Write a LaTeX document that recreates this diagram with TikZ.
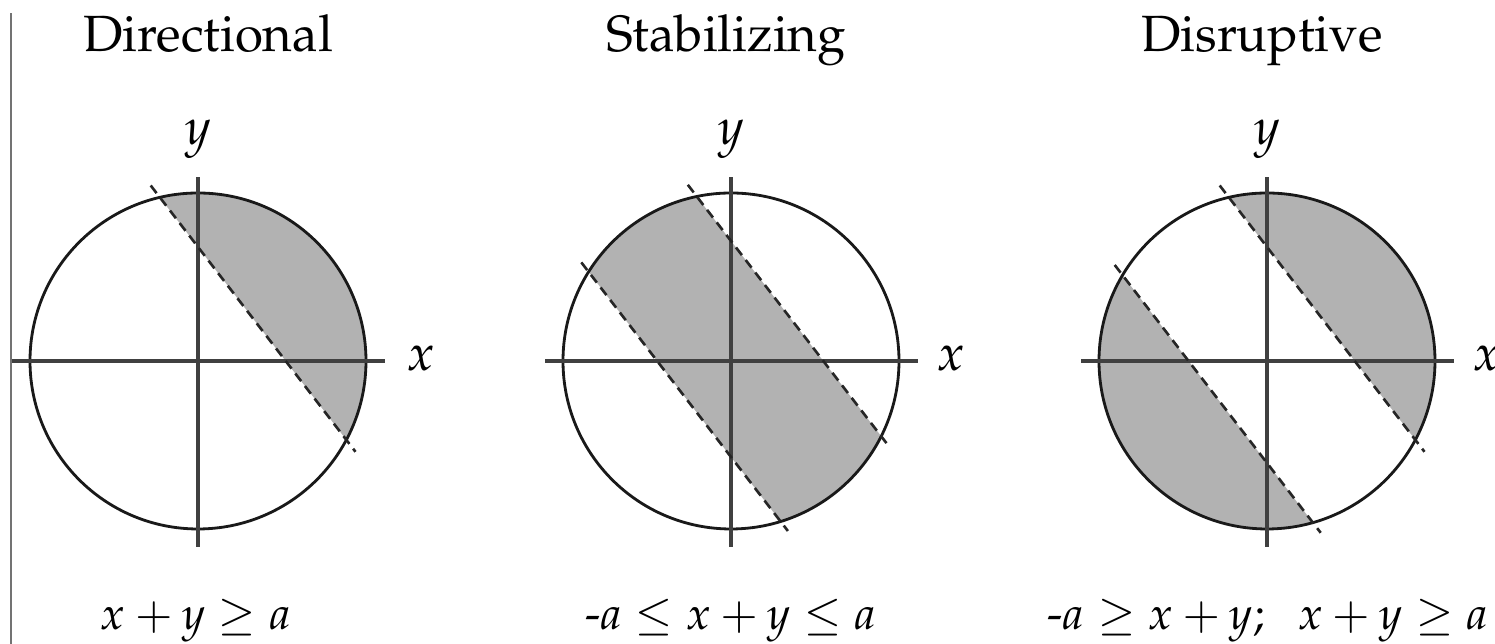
\documentclass[tikz,border=0pt]{standalone}
\usepackage[T1]{fontenc}
\usepackage{mathpazo}
\usepackage{amsmath}

\begin{document}
\begin{tikzpicture}[
    x=0.02cm, y=0.02cm,
    rim/.style    = {line width=1.6pt, black!90},
    axis/.style   = {line width=1.8pt, black!75},
    bound/.style  = {line width=1.5pt, black!85, dash pattern=on 5.5pt off 3.5pt},
    region/.style = {fill=black!30},
    axlbl/.style  = {font=\fontsize{29}{34}\selectfont},
    head/.style   = {font=\fontsize{29}{34}\selectfont, anchor=base},
    rule/.style   = {font=\fontsize{26}{31}\selectfont, anchor=base},
]
\useasboundingbox (0,0) rectangle (1495,644);

% page edge on the left
\draw[line width=1.7pt, black!55] (11,0) -- (11,631);

% ============================================================
%  PANEL 1  –  Directional, one boundary  x + y = a
% ============================================================
\node[head] (dir) at (208,592) {Directional};
\begin{scope}[shift={(198,283)}]
  \begin{scope}
    \clip (0,0) circle (168);
    \fill[region] (-200,374) -- (250,-211) -- (250,374) -- cycle;
  \end{scope}
  \draw[rim]  (0,0) circle (168);
  \draw[axis] (-186,0) -- (187,0);
  \draw[axis] (0,-186) -- (0,184);
  \draw[bound] (-47.3,175.5) -- (157.5,-90.8);
  \node[axlbl] (ya) at (0,222) {$y$};
  \node[axlbl] (xa) at (223,3) {$x$};
\end{scope}
\node[rule] (ra) at (196,14) {$x + y \geq a$};

% ============================================================
%  PANEL 2  –  Stabilizing, band between the two boundaries
% ============================================================
\node[head] (stab) at (726,592) {Stabilizing};
\begin{scope}[shift={(731,283)}]
  \begin{scope}
    \clip (0,0) circle (168);
    \fill[region] (-200,380) -- (250,-205) -- (250,-421) -- (-200,164) -- cycle;
  \end{scope}
  \draw[rim]  (0,0) circle (168);
  \draw[axis] (-186,0) -- (187,0);
  \draw[axis] (0,-186) -- (0,184);
  \draw[bound] (-43.2,176.2) -- (159.2,-87.0);   % x + y = a
  \draw[bound] (-149.7,98.6) -- (56.9,-170.0);   % x + y = -a
  \node[axlbl] (yb) at (0,222) {$y$};
  \node[axlbl] (xb) at (220,3) {$x$};
\end{scope}
\node[rule] (rb) at (731,14) {\mbox{-}$a \leq x + y \leq a$};

% ============================================================
%  PANEL 3  –  Disruptive, both outer pieces
% ============================================================
\node[head] (dis) at (1262,592) {Disruptive};
\begin{scope}[shift={(1267,283)}]
  \begin{scope}
    \clip (0,0) circle (168);
    \fill[region] (-200,374) -- (250,-211) -- (250,374) -- cycle;
    \fill[region] (-200,158) -- (250,-427) -- (-200,-427) -- cycle;
  \end{scope}
  \draw[rim]  (0,0) circle (168);
  \draw[axis] (-186,0) -- (187,0);
  \draw[axis] (0,-186) -- (0,184);
  \draw[bound] (-47.3,175.5) -- (157.5,-90.8);
  \draw[bound] (-152.3,96.0) -- (53.7,-171.8);
  \node[axlbl] (yc) at (0,222) {$y$};
  \node[axlbl] (xc) at (220,3) {$x$};
\end{scope}
\node[rule] (rc) at (1268,14) {\mbox{-}$a \geq x + y;\;\; x + y \geq a$};

\end{tikzpicture}
\end{document}
